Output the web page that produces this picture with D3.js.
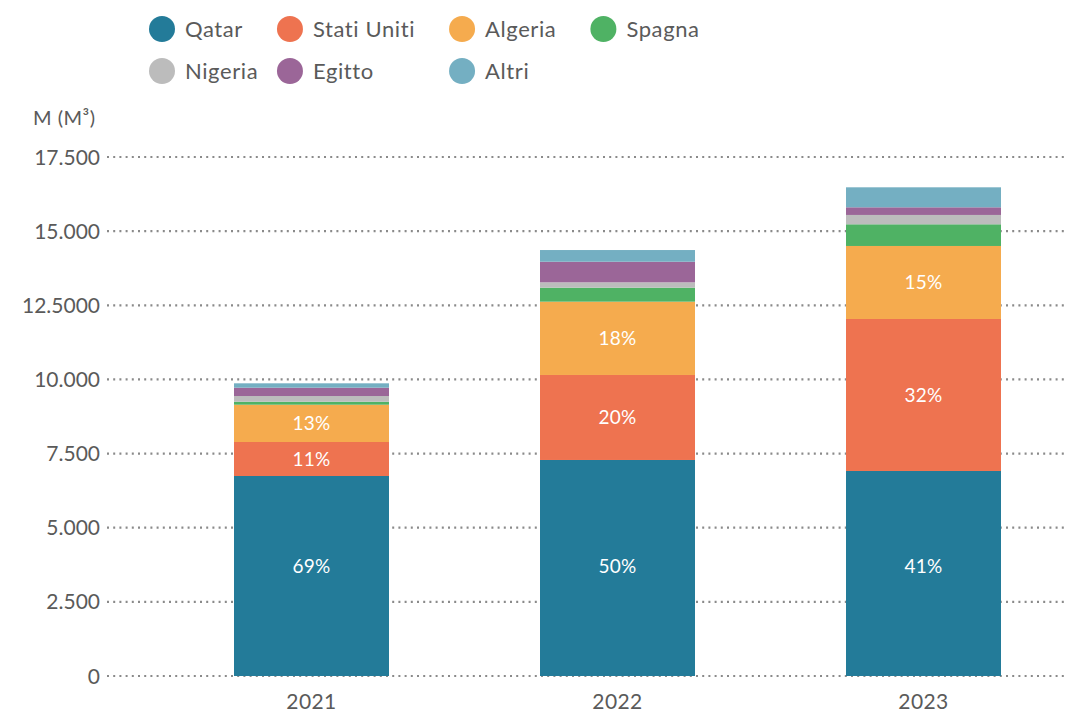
<!DOCTYPE html>
<html lang="it">
<head>
<meta charset="utf-8">
<title>Importazioni di GNL per paese</title>
<style>
  body { margin: 0; background: #fff; }
  svg text { font-family: Lato, "Open Sans", sans-serif; }
</style>
<script src="https://d3js.org/d3.v7.min.js"></script>
</head>
<body>
<svg id="chart" width="1065" height="713"></svg>
<script>
// dati
var years = ["2021", "2022", "2023"];
var countries = ["Qatar", "Stati Uniti", "Algeria", "Spagna", "Nigeria", "Egitto", "Altri"];
var colors = ["#237b99", "#ee7350", "#f5ab4e", "#4fb264", "#bcbcbc", "#9b6698", "#74afc2"];

var qatar      = [6744, 7284, 6913];
var statiUniti = [1146, 2866, 5125];
var algeria    = [1258, 2472, 2462];
var spagna     = [101, 472, 731];
var nigeria    = [192, 180, 315];
var egitto     = [280, 695, 258];
var altri      = [148, 394, 674];

// etichette percentuali (solo le prime tre serie)
var pctQatar = ["69%", "50%", "41%"];
var pctStatiUniti = ["11%", "20%", "32%"];
var pctAlgeria = ["13%", "18%", "15%"];
var qatarLabelValue = 3700; // le etichette del Qatar stanno tutte alla stessa altezza

var yTicks = [0, 2500, 5000, 7500, 10000, 12500, 15000, 17500];
var yTickLabels = ["0", "2.500", "5.000", "7.500", "10.000", "12.5000", "15.000", "17.500"];

var series = [qatar, statiUniti, algeria, spagna, nigeria, egitto, altri];
var pcts = [pctQatar, pctStatiUniti, pctAlgeria];

var rows = years.map(function(y, i) {
  var r = { year: y };
  countries.forEach(function(c, k) { r[c] = series[k][i]; });
  return r;
});

var svg = d3.select("#chart");

var y = d3.scaleLinear().domain([0, 17500]).range([676, 157]);
var x = d3.scaleBand().domain(years).range([234, 1001]).paddingInner(0.4935).paddingOuter(0);

// griglia tratteggiata
svg.append("g").selectAll("line")
  .data(yTicks)
  .join("line")
    .attr("x1", 107).attr("x2", 1065)
    .attr("y1", function(d) { return y(d); })
    .attr("y2", function(d) { return y(d); })
    .attr("stroke", "#8a8a8a")
    .attr("stroke-width", 2.2)
    .attr("stroke-dasharray", "2,4.2");

svg.append("g").selectAll("text")
  .data(yTicks)
  .join("text")
    .attr("x", 100)
    .attr("y", function(d) { return y(d); })
    .attr("dy", "0.36em")
    .attr("text-anchor", "end")
    .attr("fill", "#5a5a5a")
    .style("font-size", "21px")
    .text(function(d, i) { return yTickLabels[i]; });

svg.append("text")
  .attr("x", 33).attr("y", 125)
  .attr("fill", "#5a5a5a")
  .style("font-size", "20px")
  .style("letter-spacing", "0.5px")
  .text("M (M³)");

// barre impilate
var stack = d3.stack().keys(countries)(rows);

var layers = svg.append("g").selectAll("g")
  .data(stack)
  .join("g")
    .attr("fill", function(d, i) { return colors[i]; });

layers.selectAll("rect")
  .data(function(d) { return d; })
  .join("rect")
    .attr("x", function(d) { return x(d.data.year); })
    .attr("width", x.bandwidth())
    .attr("y", function(d) { return y(d[1]); })
    .attr("height", function(d) { return y(d[0]) - y(d[1]); });

// percentuali
stack.slice(0, 3).forEach(function(layer, k) {
  svg.append("g").selectAll("text")
    .data(layer)
    .join("text")
      .attr("x", function(d) { return x(d.data.year) + x.bandwidth() / 2; })
      .attr("y", function(d) { return y(k === 0 ? qatarLabelValue : (d[0] + d[1]) / 2); })
      .attr("dy", "0.36em")
      .attr("text-anchor", "middle")
      .attr("fill", "#fff")
      .style("font-size", "19px")
      .style("letter-spacing", "0.3px")
      .text(function(d, i) { return pcts[k][i]; });
});

// anni
svg.append("g").selectAll("text")
  .data(years)
  .join("text")
    .attr("x", function(d) { return x(d) + x.bandwidth() / 2; })
    .attr("y", 709)
    .attr("text-anchor", "middle")
    .attr("fill", "#5a5a5a")
    .style("font-size", "21px")
    .style("letter-spacing", "0.4px")
    .text(function(d) { return d; });

// legenda: prima riga a flusso, seconda riga sulle stesse colonne
var legend = svg.append("g");
var perRow = 4, r = 13, gapText = 10, gapItem = 34;
var colX = [];
var cx = 162;
countries.forEach(function(c, i) {
  var row = Math.floor(i / perRow), col = i % perRow;
  if (row === 0) colX[col] = cx;
  var px = colX[col];
  var cy = 29 + row * 42;
  var g = legend.append("g");
  g.append("circle").attr("cx", px).attr("cy", cy).attr("r", r).attr("fill", colors[i]);
  var t = g.append("text")
    .attr("x", px + r + gapText)
    .attr("y", cy)
    .attr("dy", "0.36em")
    .attr("fill", "#5a5a5a")
    .style("font-size", "22px")
    .style("letter-spacing", "0.6px")
    .text(c);
  if (row === 0) cx = px + r + gapText + t.node().getComputedTextLength() + gapItem + r;
});
</script>
</body>
</html>
